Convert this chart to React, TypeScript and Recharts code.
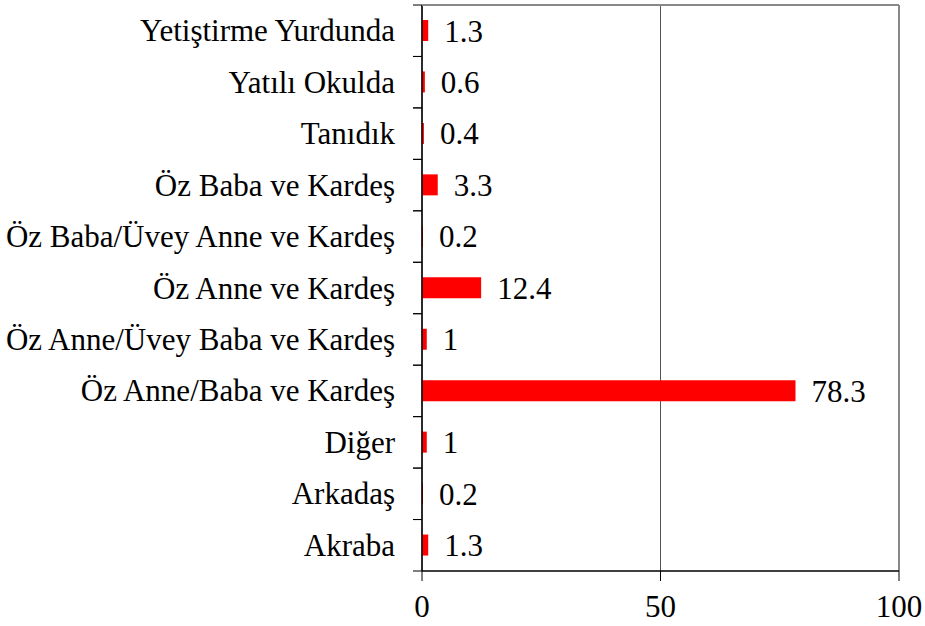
import { BarChart, Bar, XAxis, YAxis, CartesianGrid, LabelList, ReferenceLine } from 'recharts';

const categories = [
    'Yetiştirme Yurdunda',
    'Yatılı Okulda',
    'Tanıdık',
    'Öz Baba ve Kardeş',
    'Öz Baba/Üvey Anne ve Kardeş',
    'Öz Anne ve Kardeş',
    'Öz Anne/Üvey Baba ve Kardeş',
    'Öz Anne/Baba ve Kardeş',
    'Diğer',
    'Arkadaş',
    'Akraba',
];
const percentages = [1.3, 0.6, 0.4, 3.3, 0.2, 12.4, 1, 78.3, 1, 0.2, 1.3];
const xTicks = [0, 50, 100];

const FONT = "'Liberation Serif', 'Times New Roman', Times, serif";
const FONT_SIZE = 31;

const CHART_W = 925;
const CHART_H = 626;
const MARGIN = { top: 5, right: 26, left: 0, bottom: 0 };
const Y_AXIS_W = 422;
const PLOT_W = CHART_W - MARGIN.left - MARGIN.right - Y_AXIS_W;

const data = categories.map((name, i) => ({ name, value: percentages[i] }));

// category label plus an Excel-style tick mark on the band boundary;
// the first tick also draws the top edge of the plot frame
function CategoryTick(props: any) {
    const { x, y, payload, index } = props;
    const half = payload?.offset ?? 25.7;
    const axisX = x + 27;
    return (
        <g>
            {index === 0 && (
                <line x1={axisX} x2={axisX + PLOT_W} y1={y - half} y2={y - half} stroke="#888" strokeWidth={2} />
            )}
            <line x1={axisX - 9} x2={axisX} y1={y - half} y2={y - half} stroke="#000" />
            <line x1={axisX - 9} x2={axisX} y1={y + half} y2={y + half} stroke="#000" />
            <text x={x} y={y} textAnchor="end" dominantBaseline="central" fontSize={FONT_SIZE} fontFamily={FONT} fill="#000">
                {payload.value}
            </text>
        </g>
    );
}

export default function App() {
    return (
        <div style={{ position: 'absolute', left: 0, top: 0, background: '#fff' }}>
            <BarChart
                width={CHART_W}
                height={CHART_H}
                data={data}
                layout="vertical"
                margin={MARGIN}
            >
                <CartesianGrid horizontal={false} stroke="#555" strokeWidth={1} />
                <XAxis
                    type="number"
                    domain={[0, 100]}
                    ticks={xTicks}
                    height={55}
                    tickSize={10}
                    tickMargin={14}
                    axisLine={{ stroke: '#000', strokeWidth: 1.5 }}
                    tickLine={{ stroke: '#000' }}
                    tick={{ fill: '#000', fontSize: FONT_SIZE, fontFamily: FONT }}
                />
                <YAxis
                    type="category"
                    dataKey="name"
                    width={Y_AXIS_W}
                    tickSize={9}
                    tickMargin={18}
                    interval={0}
                    tickLine={false}
                    axisLine={{ stroke: '#000', strokeWidth: 1.5 }}
                    tick={<CategoryTick />}
                />
                <ReferenceLine x={100} stroke="#888" strokeWidth={2} ifOverflow="visible" />
                <Bar dataKey="value" fill="#ff0000" barSize={21} isAnimationActive={false}>
                    <LabelList
                        dataKey="value"
                        position="right"
                        offset={16}
                        fontFamily={FONT}
                        fontSize={FONT_SIZE}
                        fill="#000"
                    />
                </Bar>
            </BarChart>
        </div>
    );
}
